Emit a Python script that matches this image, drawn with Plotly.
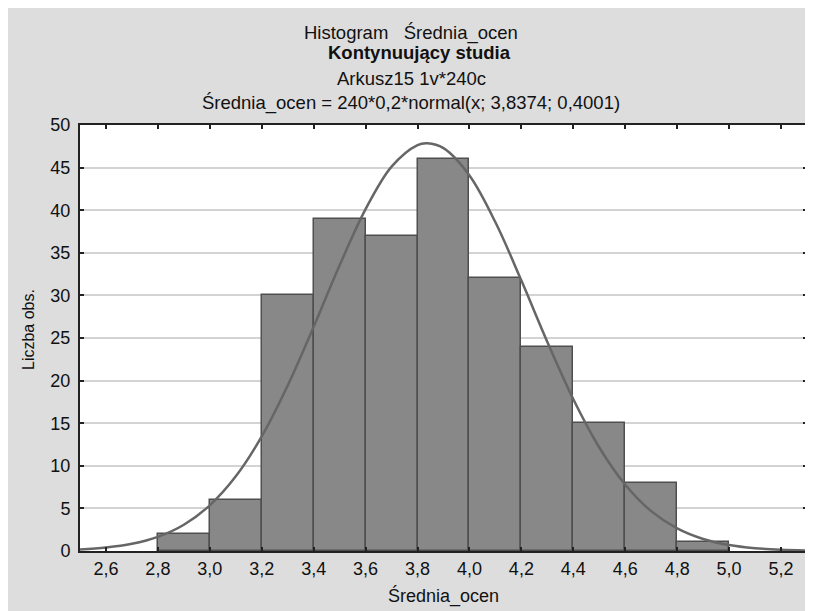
import plotly.graph_objects as go

# ---- data ----
bin_left = [2.8, 3.0, 3.2, 3.4, 3.6, 3.8, 4.0, 4.2, 4.4, 4.6, 4.8]
counts = [2, 6, 30, 39, 37, 46, 32, 24, 15, 8, 1]
bin_width = 0.2

# fitted normal curve (240*0.2*normal(x; 3.8374; 0.4001)), values read at 0.1 steps
curve_x = [2.5, 2.6, 2.7, 2.8, 2.9, 3.0, 3.1, 3.2, 3.3, 3.4, 3.5, 3.6, 3.7, 3.8,
           3.8374, 3.9, 4.0, 4.1, 4.2, 4.3, 4.4, 4.5, 4.6, 4.7, 4.8, 4.9, 5.0,
           5.1, 5.2, 5.3]
curve_y = [0.18, 0.40, 0.84, 1.66, 3.08, 5.36, 8.76, 13.45, 19.42, 26.33, 33.54,
           40.13, 45.12, 47.65, 47.86, 47.28, 44.07, 38.58, 31.74, 24.53, 17.81,
           12.15, 7.78, 4.68, 2.65, 1.41, 0.70, 0.33, 0.15, 0.06]

x_ticks = [2.6, 2.8, 3.0, 3.2, 3.4, 3.6, 3.8, 4.0, 4.2, 4.4, 4.6, 4.8, 5.0, 5.2]
x_tick_text = ["2,6", "2,8", "3,0", "3,2", "3,4", "3,6", "3,8", "4,0", "4,2",
               "4,4", "4,6", "4,8", "5,0", "5,2"]
y_ticks = [0, 5, 10, 15, 20, 25, 30, 35, 40, 45, 50]

title_lines = ["Histogram   Średnia_ocen", "<b>Kontynuujący studia</b>",
               "Arkusz15 1v*240c",
               "Średnia_ocen = 240*0,2*normal(x; 3,8374; 0,4001)"]
x_title = "Średnia_ocen"
y_title = "Liczba obs."

# ---- figure (page has an 8px body margin) ----
OFF = 8
W, H = 813 - OFF, 611 - OFF
L, R, T, B = 80 - OFF, 6, 125 - OFF, 60
pw, ph = W - L - R, H - T - B

def px_x(p):  # p in page pixels
    return (p - OFF - L) / pw

def px_y(p):
    return (H - B - (p - OFF)) / ph

FONT = "Liberation Sans, Arial, sans-serif"
TXT = "#111111"
fig = go.Figure()
fig.add_trace(go.Bar(
    x=[b + bin_width / 2 for b in bin_left], y=counts, width=bin_width,
    marker=dict(color="#888888", line=dict(color="#4f4f4f", width=1.5)),
    hoverinfo="skip", showlegend=False))
fig.add_trace(go.Scatter(
    x=curve_x, y=curve_y, mode="lines", line=dict(color="#666666", width=2.5, shape="spline"),
    hoverinfo="skip", showlegend=False))

fig.update_layout(
    width=W, height=H, margin=dict(l=L, r=R, t=T, b=B, autoexpand=False),
    paper_bgcolor="#dddddd", plot_bgcolor="white",
    font=dict(family=FONT, size=18, color=TXT),
    bargap=0,
    xaxis=dict(range=[2.5, 5.3], tickvals=x_ticks, ticktext=x_tick_text,
               ticks="inside", ticklen=4, tickwidth=2, tickcolor="#222",
               showline=True, linecolor="#222", linewidth=2, mirror="ticks",
               showgrid=False, zeroline=False, tickfont=dict(size=18)),
    yaxis=dict(range=[0, 50], tickvals=y_ticks,
               ticks="inside", ticklen=4, tickwidth=2, tickcolor="#222",
               showline=True, linecolor="#222", linewidth=2, mirror="ticks",
               showgrid=True, gridcolor="#d3d3d3", gridwidth=2, zeroline=False,
               tickfont=dict(size=18), ticklabelstandoff=4),
)

title_pos = [(411, 33), (419, 52), (411, 78), (411, 103)]
for txt, (cx, cy) in zip(title_lines, title_pos):
    fig.add_annotation(text=txt, x=px_x(cx), y=px_y(cy), xref="paper", yref="paper",
                       showarrow=False, xanchor="center", yanchor="middle",
                       font=dict(size=18.5, family=FONT, color=TXT))

fig.add_annotation(text=x_title, x=px_x(443), y=px_y(596), xref="paper", yref="paper",
                   showarrow=False, xanchor="center", yanchor="middle",
                   font=dict(size=18, family=FONT, color=TXT))
fig.add_annotation(text=y_title, x=px_x(28), y=px_y(330), xref="paper", yref="paper",
                   showarrow=False, xanchor="center", yanchor="middle", textangle=-90,
                   font=dict(size=16, family=FONT, color=TXT))

fig.write_html("out.html")
